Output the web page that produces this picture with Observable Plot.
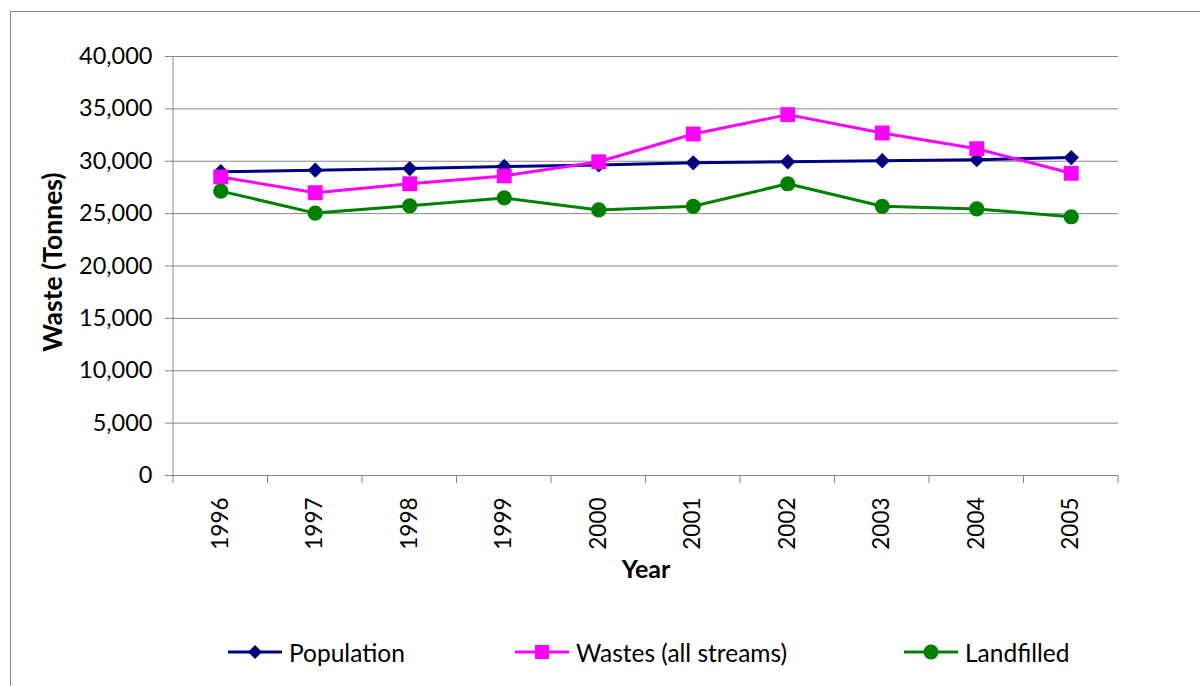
<!DOCTYPE html>
<html><head><meta charset="utf-8">
<script src="https://cdn.jsdelivr.net/npm/d3@7"></script>
<script src="https://cdn.jsdelivr.net/npm/@observablehq/plot@0.6"></script>
<style>
body{margin:0;background:#fff;}
#wrap{position:relative;width:1200px;height:686px;overflow:hidden;font-family:Lato,sans-serif;background:#fff;}
#border{position:absolute;left:10px;top:11px;width:1400px;height:1000px;border:1.5px solid #8c8c8c;box-sizing:border-box;pointer-events:none;}
#chart{position:absolute;left:0;top:0;}
.leg{position:absolute;top:640px;height:24px;display:flex;align-items:center;font-size:24.5px;color:#000;white-space:nowrap;}
.leg svg{margin-right:7px;}
</style></head>
<body>
<div id="wrap"><div id="chart"></div><div id="border"></div><div id="legend"></div></div>
<script>
const years = ["1996","1997","1998","1999","2000","2001","2002","2003","2004","2005"];
const population = [29000, 29150, 29300, 29500, 29650, 29850, 29950, 30050, 30150, 30350];
const wastes = [28500, 27000, 27850, 28600, 29950, 32600, 34450, 32700, 31200, 28850];
const landfilled = [27150, 25050, 25750, 26500, 25350, 25700, 27850, 25700, 25450, 24700];
const yTicks = [0, 5000, 10000, 15000, 20000, 25000, 30000, 35000, 40000];
const seriesNames = ["Population", "Wastes (all streams)", "Landfilled"];
const seriesColors = ["#000080", "#FF00FF", "#008000"];

const tables = [population, wastes, landfilled].map((vals, s) =>
  years.map((y, i) => ({year: y, value: vals[i], series: seriesNames[s]})));

const gray = "#868686";

function axisDecor(index, scales, values, dimensions) {
  const x = scales.x, y = scales.y;
  const g = d3.create("svg:g").attr("stroke", gray).attr("fill", "none");
  const bw = typeof x.bandwidth === "function" ? x.bandwidth() : (x.bandwidth ?? (dimensions.width - dimensions.marginLeft - dimensions.marginRight) / years.length);
  const y0 = y(0);
  g.append("line").attr("x1", dimensions.marginLeft).attr("x2", dimensions.marginLeft)
    .attr("y1", y(40000)).attr("y2", y0);
  const bounds = years.map(v => x(v)).concat([x(years[years.length - 1]) + bw]);
  for (const bx of bounds) {
    g.append("line").attr("x1", bx).attr("x2", bx).attr("y1", y0).attr("y2", y0 + 8);
  }
  return g.node();
}

const symbols = ["diamond2", "square", "circle"];
const radii = [6.9, 8.4, 7.6];

const seriesMarks = [];
tables.forEach((t, s) => {
  seriesMarks.push(Plot.line(t, {x: "year", y: "value", stroke: seriesColors[s], strokeWidth: 3}));
  seriesMarks.push(Plot.dot(t, {x: "year", y: "value", symbol: () => symbols[s], r: radii[s], fill: seriesColors[s], stroke: "none"}));
});

const chart = Plot.plot({
  width: 1200, height: 686,
  marginLeft: 173, marginRight: 82, marginTop: 56, marginBottom: 211,
  style: {fontFamily: "Lato, sans-serif", fontSize: "23.5px", color: "#000", background: "transparent"},
  x: {type: "band", domain: years, padding: 0, round: false, axis: null},
  y: {domain: [0, 40000], axis: null},
  symbol: {type: "identity"},
  marks: [
    Plot.gridY(yTicks, {stroke: gray, strokeOpacity: 1, strokeWidth: 1}),
    Plot.axisY(yTicks, {tickSize: 8, tickPadding: 13, tickFormat: d3.format(","), stroke: gray, fill: "#000", fontSize: 23.5, label: null}),
    Plot.ruleY([0], {stroke: gray}),
    axisDecor,
    Plot.axisX(years, {tickSize: 0, tickPadding: 22, tickRotate: -90, fill: "#000", fontSize: 22.5, label: null}),
    Plot.text(["Year"], {frameAnchor: "bottom", dy: 102, fontWeight: "bold", fontSize: 25, fill: "#000"}),
    Plot.text(["Waste (Tonnes)"], {frameAnchor: "left", textAnchor: "middle", dx: -120, dy: -4, rotate: -90, fontWeight: "bold", fontSize: 26.5, fill: "#000"}),
    ...seriesMarks
  ]
});
document.getElementById("chart").appendChild(chart);

// Legend
const legendLefts = [228, 515, 904];
const markerSvg = [
  c => `<polygon points="27,3 34,10 27,17 20,10" fill="${c}"/>`,
  c => `<rect x="20" y="3" width="14" height="14" fill="${c}"/>`,
  c => `<circle cx="27" cy="10" r="7.5" fill="${c}"/>`
];
const legend = document.getElementById("legend");
seriesNames.forEach((name, i) => {
  const d = document.createElement("div");
  d.className = "leg";
  d.style.left = legendLefts[i] + "px";
  d.innerHTML = `<svg width="54" height="20"><line x1="0" x2="54" y1="10" y2="10" stroke="${seriesColors[i]}" stroke-width="3"/>${markerSvg[i](seriesColors[i])}</svg><span>${name}</span>`;
  legend.appendChild(d);
});
</script>
</body></html>
